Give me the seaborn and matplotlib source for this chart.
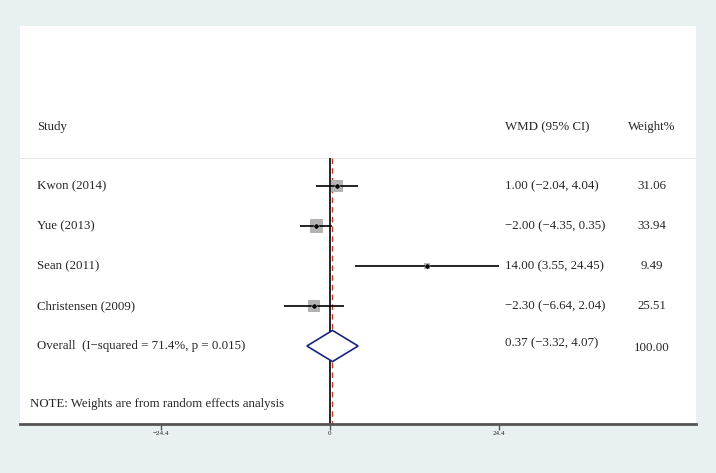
import numpy as np
import pandas as pd
import matplotlib
matplotlib.use('Agg')
import matplotlib.pyplot as plt
import matplotlib.transforms as mtransforms
import seaborn as sns

# Study data
studies = ['Kwon (2014)', 'Yue (2013)', 'Sean (2011)', 'Christensen (2009)']
wmd = [1.00, -2.00, 14.00, -2.30]
ci_low = [-2.04, -4.35, 3.55, -6.64]
ci_high = [4.04, 0.35, 24.45, 2.04]
weights = [31.06, 33.94, 9.49, 25.51]

overall_label = 'Overall  (I\u2212squared = 71.4%, p = 0.015)'
overall_wmd = 0.37
overall_low = -3.32
overall_high = 4.07
overall_weight = 100.00

tick_values = [-24.4, 0, 24.4]
tick_labels = ['\u221224.4', '0', '24.4']
note = 'NOTE: Weights are from random effects analysis'


def fmt(v):
    return f'{v:.2f}'.replace('-', '\u2212')


df = pd.DataFrame({'study': studies, 'wmd': wmd, 'lo': ci_low, 'hi': ci_high, 'weight': weights})
df['row'] = np.arange(1, len(df) + 1)
overall_row = len(df) + 1

sns.set_theme(style='white')
plt.rcParams['font.family'] = ['Liberation Serif', 'DejaVu Serif']

fig = plt.figure(figsize=(7.16, 4.73), dpi=100)
fig.patch.set_facecolor('#e8f0f1')
ax = fig.add_axes([20 / 716, 49 / 473, 676 / 716, 398 / 473])
ax.set_facecolor('white')

# faint separator under the header
ax.axhline(0.3, color='#e6e6e6', lw=0.7, zorder=0)

# CI lines
ax.hlines(df['row'], df['lo'], df['hi'], color='black', lw=1.2, zorder=3)
# weight boxes
ax.scatter(df['wmd'], df['row'], marker='s', s=df['weight'] * 2.6, color='#b3b3b3', zorder=2, linewidths=0)
# point estimates
sns.scatterplot(data=df, x='wmd', y='row', ax=ax, color='black', s=14, zorder=4, legend=False)

# no-effect line and overall line
ax.vlines(0, 0.3, 6.95, color='black', lw=1.2, zorder=1)
ax.vlines(overall_wmd, 0.3, 6.95, color='#c0392b', lw=1.0, linestyles=(0, (4, 3)), zorder=1)

# overall diamond
h = 0.39
dx = [overall_low, overall_wmd, overall_high, overall_wmd, overall_low]
dy = [overall_row, overall_row - h, overall_row, overall_row + h, overall_row]
ax.fill(dx, dy, facecolor='white', edgecolor='#1a237e', lw=1.2, zorder=5)

ax.set_xlim(-44.7, 52.8)
ax.set_ylim(6.95, -3.0)

# text columns
tr = mtransforms.blended_transform_factory(ax.transAxes, ax.transData)
fs = 9.3
wx = 0.717
gx = 0.935
ax.text(0.025, -0.475, 'Study', transform=tr, fontsize=fs, va='center', ha='left')
ax.text(wx, -0.475, 'WMD (95% CI)', transform=tr, fontsize=fs, va='center', ha='left')
ax.text(gx, -0.475, 'Weight%', transform=tr, fontsize=fs, va='center', ha='center')
for _, r in df.iterrows():
    ax.text(0.025, r['row'], r['study'], transform=tr, fontsize=fs, va='center', ha='left')
    ax.text(wx, r['row'], f"{fmt(r['wmd'])} ({fmt(r['lo'])}, {fmt(r['hi'])})",
            transform=tr, fontsize=fs, va='center', ha='left')
    ax.text(gx, r['row'], fmt(r['weight']), transform=tr, fontsize=fs, va='center', ha='center')
ax.text(0.025, overall_row, overall_label, transform=tr, fontsize=fs, va='center', ha='left')
ax.text(wx, overall_row - 0.08, f'{fmt(overall_wmd)} ({fmt(overall_low)}, {fmt(overall_high)})',
        transform=tr, fontsize=fs, va='center', ha='left')
ax.text(gx, overall_row + 0.05, fmt(overall_weight), transform=tr, fontsize=fs, va='center', ha='center')
ax.text(0.015, 6.45, note, transform=tr, fontsize=fs, va='center', ha='left')

# axes styling
for side in ['top', 'right', 'left']:
    ax.spines[side].set_visible(False)
ax.spines['bottom'].set_color('#555555')
ax.spines['bottom'].set_linewidth(2)
ax.set_xticks(tick_values)
ax.set_xticklabels(tick_labels, fontsize=5)
ax.tick_params(axis='x', direction='out', length=4, width=1, color='#555555', pad=1, bottom=True)
ax.set_yticks([])
ax.set_xlabel('')
ax.set_ylabel('')

fig.savefig('out.png', dpi=100, facecolor=fig.get_facecolor())
